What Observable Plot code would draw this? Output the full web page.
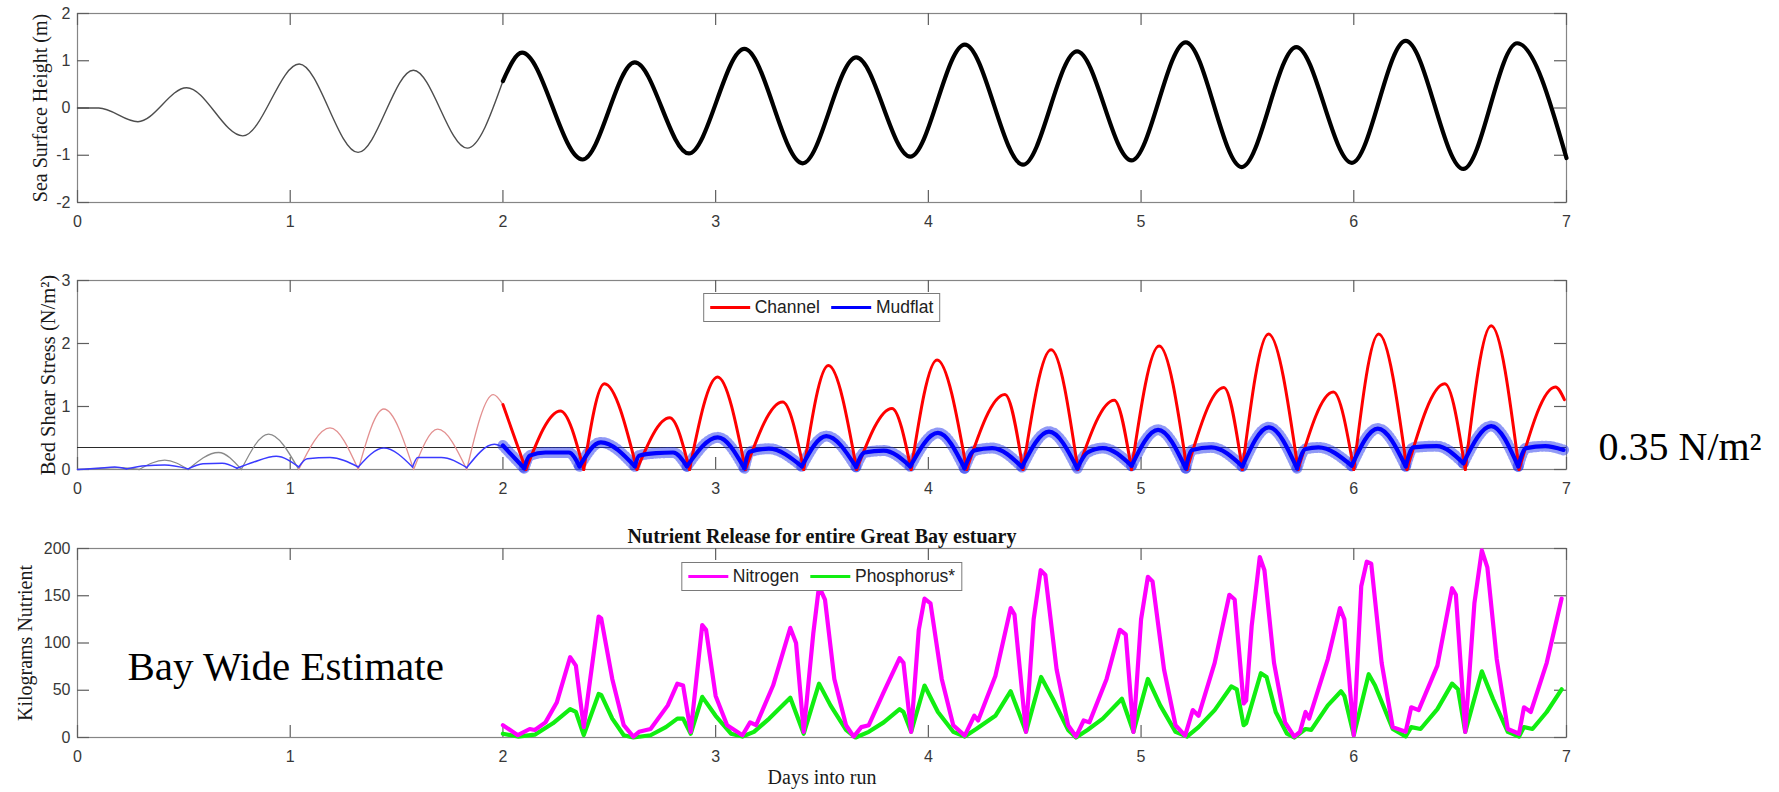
<!DOCTYPE html>
<html>
<head>
<meta charset="utf-8">
<script src="https://cdn.jsdelivr.net/npm/d3@7"></script>
<script src="https://cdn.jsdelivr.net/npm/@observablehq/plot@0.6"></script>
<style>
  html, body { margin: 0; padding: 0; background: #fff; overflow: hidden; }
  #wrap { position: relative; width: 1779px; height: 792px; overflow: hidden; background: #fff; }
  .panel { position: absolute; left: 0; }
  .legend { position: absolute; background: #fff; border: 1px solid #7a7a7a; display: flex; align-items: center;
            box-sizing: border-box; padding: 0 6px; font-family: "Liberation Sans", Arial, sans-serif;
            font-size: 17.5px; color: #222; white-space: nowrap; transform: translateX(-50%); }
  .legend .sw { display: inline-block; width: 40px; height: 3px; margin-right: 5px; }
  .legend .gap { display: inline-block; width: 11px; }
</style>
</head>
<body>
<div id="wrap"></div>
<script>
// ---------------- data ----------------
const dayTicks = [0, 1, 2, 3, 4, 5, 6, 7];
const sshTicks = [-2, -1, 0, 1, 2];
const stressTicks = [0, 1, 2, 3];
const nutrientTicks = [0, 50, 100, 150, 200];

// Sea surface height (m): spin-up (days 0-2) and analysis period (days 2-7)
const sshSpinupDay = [0, 0.1, 0.284, 0.513, 0.777, 1.042, 1.319, 1.579, 1.832, 2.0];
const sshSpinupVal = [0, 0, -0.29, 0.43, -0.59, 0.93, -0.94, 0.80, -0.85, 0.57];
const sshDay = [2.0, 2.09, 2.374, 2.62, 2.874, 3.135, 3.409, 3.661, 3.915, 4.171, 4.445, 4.699, 4.955, 5.21, 5.473, 5.73, 5.991, 6.244, 6.515, 6.768, 7.0];
const sshVal = [0.57, 1.17, -1.09, 0.965, -0.96, 1.25, -1.17, 1.07, -1.03, 1.34, -1.2, 1.2, -1.11, 1.39, -1.25, 1.29, -1.16, 1.42, -1.29, 1.37, -1.06];

// Bed shear stress (N/m^2)
const channelSpinupDay = [0, 0.2, 0.29, 0.41, 0.52, 0.663, 0.77, 0.898, 1.04, 1.187, 1.32, 1.44, 1.58, 1.693, 1.83, 1.955, 2.0];
const channelSpinupVal = [0, 0.03, 0, 0.15, 0, 0.27, 0, 0.56, 0, 0.66, 0, 0.96, 0, 0.64, 0, 1.19, 1.03];
const channelDay = [2.0, 2.108, 2.27, 2.38, 2.477, 2.63, 2.784, 2.877, 3.009, 3.14, 3.315, 3.414, 3.53, 3.663, 3.829, 3.919, 4.041, 4.18, 4.36, 4.445, 4.577, 4.703, 4.874, 4.955, 5.085, 5.216, 5.389, 5.476, 5.599, 5.738, 5.904, 6.0, 6.117, 6.25, 6.428, 6.524, 6.646, 6.777, 6.948, 6.99];
const channelVal = [1.03, 0, 0.93, 0, 1.36, 0, 0.82, 0, 1.47, 0, 1.07, 0, 1.65, 0, 0.97, 0, 1.74, 0, 1.19, 0, 1.9, 0, 1.10, 0, 1.96, 0, 1.30, 0, 2.15, 0, 1.23, 0, 2.15, 0, 1.36, 0, 2.28, 0, 1.31, 1.11];
const mudflatSpinupDay = [0, 0.1, 0.175, 0.23, 0.32, 0.41, 0.52, 0.59, 0.68, 0.75, 0.826, 0.934, 1.04, 1.08, 1.187, 1.32, 1.44, 1.575, 1.6, 1.71, 1.83, 1.96, 2.0];
const mudflatSpinupVal = [0, 0.02, 0.04, 0.01, 0.06, 0.07, 0.01, 0.09, 0.10, 0.02, 0.115, 0.21, 0.04, 0.17, 0.19, 0.04, 0.34, 0.04, 0.19, 0.19, 0.03, 0.40, 0.35];
const mudflatDay = [2.0, 2.1, 2.126, 2.2, 2.31, 2.36, 2.46, 2.62, 2.64, 2.72, 2.80, 2.865, 3.01, 3.135, 3.16, 3.25, 3.405, 3.52, 3.66, 3.70, 3.79, 3.915, 4.045, 4.17, 4.216, 4.30, 4.44, 4.567, 4.70, 4.748, 4.82, 4.955, 5.08, 5.21, 5.24, 5.33, 5.476, 5.60, 5.733, 5.773, 5.834, 5.99, 6.113, 6.244, 6.28, 6.39, 6.515, 6.646, 6.773, 6.81, 6.90, 6.986];
const mudflatVal = [0.38, 0.02, 0.22, 0.27, 0.27, 0.05, 0.43, 0.05, 0.22, 0.26, 0.27, 0.05, 0.51, 0.02, 0.28, 0.33, 0.05, 0.53, 0.04, 0.27, 0.30, 0.05, 0.58, 0.02, 0.30, 0.34, 0.04, 0.60, 0.02, 0.27, 0.34, 0.06, 0.63, 0.02, 0.31, 0.35, 0.05, 0.67, 0.02, 0.325, 0.35, 0.06, 0.65, 0.05, 0.35, 0.37, 0.10, 0.69, 0.05, 0.34, 0.37, 0.31];
const erosionThreshold = 0.35;

// Nutrient release (kg)
const nitrogenDay = [2.0,2.07,2.126,2.15,2.2,2.253,2.316,2.343,2.38,2.45,2.462,2.514,2.568,2.613,2.64,2.694,2.775,2.82,2.847,2.883,2.937,2.955,3.0,3.054,3.126,3.162,3.19,3.27,3.351,3.378,3.414,3.459,3.486,3.514,3.558,3.613,3.649,3.685,3.72,3.79,3.865,3.883,3.919,3.955,3.982,4.01,4.063,4.117,4.171,4.216,4.234,4.315,4.387,4.405,4.459,4.495,4.528,4.55,4.603,4.657,4.694,4.73,4.757,4.838,4.9,4.928,4.964,5.0,5.032,5.054,5.108,5.162,5.207,5.243,5.27,5.346,5.415,5.44,5.482,5.494,5.52,5.558,5.58,5.625,5.677,5.72,5.747,5.773,5.79,5.878,5.935,5.956,6.0,6.035,6.061,6.082,6.131,6.183,6.244,6.27,6.305,6.393,6.462,6.48,6.524,6.567,6.602,6.628,6.672,6.724,6.777,6.8,6.832,6.907,6.977];
const nitrogenVal = [13,2.5,9,8,16,37,85,76,11,128,126,62,13,1,6,9,34,57,55,6,119,114,44,13,2.4,16,13,55,116,100,6,110,160,146,62,13,1,11,13,48,84,79,6,114,147,142,62,13,2,23,18,65,137,130,6,125,177,172,72,13,1,18,16,62,114,109,6,125,170,165,72,13,2,29,23,79,151,146,36,39,118,191,177,79,16,1,6,27,20,83,137,125,2.4,160,186,184,79,11,6,32,29,76,158,151,6,142,198,180,83,9,4,32,27,79,147];
const phosphorusDay = [2.0,2.07,2.15,2.235,2.316,2.343,2.38,2.45,2.462,2.514,2.568,2.613,2.694,2.766,2.82,2.847,2.883,2.937,3.0,3.072,3.126,3.18,3.252,3.351,3.414,3.486,3.54,3.613,3.658,3.72,3.79,3.865,3.883,3.919,3.982,4.045,4.117,4.171,4.225,4.315,4.387,4.459,4.53,4.585,4.657,4.694,4.748,4.82,4.91,4.964,5.032,5.09,5.162,5.216,5.27,5.346,5.424,5.45,5.482,5.494,5.563,5.59,5.633,5.686,5.72,5.773,5.8,5.878,5.94,5.956,6.0,6.07,6.1,6.183,6.244,6.27,6.314,6.393,6.462,6.49,6.524,6.602,6.654,6.724,6.777,6.8,6.84,6.907,6.977];
const phosphorusVal = [4,1,3,15,30,27,2.5,46,45,20,2.4,0,2.4,11,20,20,4,43,23,4,1,6,20,42,4,57,34,8,0,6,16,30,27,6,55,27,6,1,9,23,49,6,64,41,8,0,8,20,41,6,62,34,6,1,11,29,54,51,13,15,68,64,27,4,0,9,8,34,49,44,2.4,67,55,9,1,11,9,30,57,51,6,70,41,6,1,11,9,27,51];

// texts
const yLabels = ["Sea Surface Height (m)", "Bed Shear Stress (N/m\u00B2)", "Kilograms Nutrient"];
const xLabel = "Days into run";
const nutrientTitle = "Nutrient Release for entire Great Bay estuary";
const stressSeries = ["Channel", "Mudflat"];
const nutrientSeries = ["Nitrogen", "Phosphorus*"];
const thresholdLabel = "0.35 N/m\u00B2";
const annotationText = "Bay Wide Estimate";

// ---------------- helpers ----------------
const SANS = "'Liberation Sans', Arial, Helvetica, sans-serif";
const SERIF = "'Liberation Serif', 'Times New Roman', serif";
const FRAME = "#858585", TICKC = "#5e5e5e", INK = "#383838";
const W = 1779, ML = 77, MR = 1779 - 1566, PLOT_W = 1566 - 77, PLOT_H = 189, TICK = 12;

const rows = (ts, vs) => ts.map((t, i) => ({t, v: vs[i]})).filter(d => d.v != null);
function segmentAtMinima(ts, vs) {
  const out = []; let seg = 0, start = ts[0];
  ts.forEach((t, i) => {
    out.push({t, v: vs[i], seg, start});
    if (i > 0 && i < ts.length - 1 && vs[i] < vs[i - 1] && vs[i] <= vs[i + 1]) {
      seg += 1; start = t;
      out.push({t, v: vs[i], seg, start});
    }
  });
  return out;
}

// MATLAB-style inward ticks on all four sides (tick length converted to data units)
function axisMarks(yTicks, yDomain) {
  const [y0, y1] = yDomain;
  const dy = (y1 - y0) * TICK / PLOT_H, dx = 7 * TICK / PLOT_W;
  const st = {stroke: TICKC, strokeWidth: 1.2};
  return [
    Plot.frame({stroke: FRAME, strokeWidth: 1.2}),
    Plot.ruleX(dayTicks, {x: d => d, y1: y0, y2: y0 + dy, ...st}),
    Plot.ruleX(dayTicks, {x: d => d, y1: y1 - dy, y2: y1, ...st}),
    Plot.ruleY(yTicks, {y: d => d, x1: 0, x2: dx, ...st}),
    Plot.ruleY(yTicks, {y: d => d, x1: 7 - dx, x2: 7, ...st}),
    Plot.axisX(dayTicks, {tickSize: 0, tickPadding: 13, tickFormat: d => String(d), label: null,
                          fontSize: 16, fontFamily: SANS, color: INK}),
    Plot.axisY(yTicks, {tickSize: 0, tickPadding: 7, tickFormat: d => String(d), label: null,
                        fontSize: 16, fontFamily: SANS, color: INK})
  ];
}
function yLabelMark(text, dx, size) {
  return Plot.text([text], {text: d => d, frameAnchor: "left", rotate: -90, dx,
    textAnchor: "middle", lineAnchor: "middle", fontFamily: SERIF, fontSize: size, fill: "#1a1a1a"});
}

const wrap = document.getElementById("wrap");
function place(svg, top) {
  const d = document.createElement("div");
  d.className = "panel"; d.style.top = top + "px";
  d.appendChild(svg); wrap.appendChild(d);
}

// ---------------- panel 1: sea surface height ----------------
const sshDomain = [-2, 2];
const p1 = Plot.plot({
  width: W, height: 255, marginTop: 13, marginBottom: 53, marginLeft: ML, marginRight: MR,
  x: {domain: [0, 7]}, y: {domain: sshDomain},
  style: {background: "transparent", overflow: "visible"},
  marks: [
    ...axisMarks(sshTicks, sshDomain),
    Plot.line(rows(sshSpinupDay, sshSpinupVal), {x: "t", y: "v", curve: "monotone-x", stroke: "#4d4d4d", strokeWidth: 1.4}),
    Plot.line(rows(sshDay, sshVal), {x: "t", y: "v", curve: "monotone-x", stroke: "#000", strokeWidth: 4.2}),
    yLabelMark(yLabels[0], -37, 20)
  ]
});
place(p1, 0);

// ---------------- panel 2: bed shear stress ----------------
const stressDomain = [0, 3];
const chSpin = segmentAtMinima(channelSpinupDay, channelSpinupVal);
const mfSpin = segmentAtMinima(mudflatSpinupDay, mudflatSpinupVal);
const chMain = segmentAtMinima(channelDay, channelVal);
const mfMain = segmentAtMinima(mudflatDay, mudflatVal);
const p2 = Plot.plot({
  width: W, height: 265, marginTop: 25, marginBottom: 51, marginLeft: ML, marginRight: MR,
  x: {domain: [0, 7]}, y: {domain: stressDomain},
  style: {background: "transparent", overflow: "visible"},
  marks: [
    ...axisMarks(stressTicks, stressDomain),
    Plot.ruleY([erosionThreshold], {stroke: "#2a2a2a", strokeWidth: 1.1}),
    Plot.line(chSpin.filter(d => d.start < 1), {x: "t", y: "v", z: "seg", curve: "monotone-x", stroke: "#8a8a8a", strokeWidth: 1.3}),
    Plot.line(chSpin.filter(d => d.start >= 1), {x: "t", y: "v", z: "seg", curve: "monotone-x", stroke: "#e39090", strokeWidth: 1.3}),
    Plot.line(mfSpin, {x: "t", y: "v", z: "seg", curve: "monotone-x", stroke: "#3a3aff", strokeWidth: 1.5}),
    Plot.line(mfMain, {x: "t", y: "v", z: "seg", curve: "monotone-x", stroke: "#2233ee", strokeWidth: 11, strokeOpacity: 0.5, strokeDasharray: "1,2.6"}),
    Plot.line(chMain, {x: "t", y: "v", z: "seg", curve: "monotone-x", stroke: "#ff0000", strokeWidth: 3}),
    Plot.line(mfMain, {x: "t", y: "v", z: "seg", curve: "monotone-x", stroke: "#0000ff", strokeWidth: 4.2}),
    Plot.text([thresholdLabel], {text: d => d, x: 7, y: erosionThreshold, dx: 32, textAnchor: "start", lineAnchor: "middle",
      fontFamily: SERIF, fontSize: 40, fill: "#000"}),
    yLabelMark(yLabels[1], -29, 20.5)
  ]
});
place(p2, 255);

// ---------------- panel 3: nutrients ----------------
const nutrientDomain = [0, 200];
const p3 = Plot.plot({
  width: W, height: 272, marginTop: 28, marginBottom: 55, marginLeft: ML, marginRight: MR,
  x: {domain: [0, 7]}, y: {domain: nutrientDomain},
  style: {background: "transparent", overflow: "visible"},
  marks: [
    ...axisMarks(nutrientTicks, nutrientDomain),
    Plot.line(rows(phosphorusDay, phosphorusVal), {x: "t", y: "v", stroke: "#11ee11", strokeWidth: 4.2, strokeLinejoin: "round"}),
    Plot.line(rows(nitrogenDay, nitrogenVal), {x: "t", y: "v", stroke: "#ff00ff", strokeWidth: 4.2, strokeLinejoin: "round"}),
    Plot.text([nutrientTitle], {text: d => d, frameAnchor: "top", dy: -6, lineAnchor: "bottom",
      fontFamily: SERIF, fontWeight: "bold", fontSize: 20, fill: "#111"}),
    Plot.text([xLabel], {text: d => d, frameAnchor: "bottom", dy: 46, lineAnchor: "bottom",
      fontFamily: SERIF, fontSize: 20, fill: "#1a1a1a"}),
    Plot.text([annotationText], {text: d => d, x: 0.235, y: 61, textAnchor: "start", lineAnchor: "bottom",
      fontFamily: SERIF, fontSize: 41, fill: "#000"}),
    yLabelMark(yLabels[2], -52, 20)
  ]
});
place(p3, 520);

// ---------------- legends ----------------
function legend(names, colors, centerX, top, height) {
  const d = document.createElement("div");
  d.className = "legend";
  d.style.left = centerX + "px"; d.style.top = top + "px"; d.style.height = height + "px";
  names.forEach((n, i) => {
    if (i > 0) { const g = document.createElement("span"); g.className = "gap"; d.appendChild(g); }
    const s = document.createElement("span"); s.className = "sw"; s.style.background = colors[i]; d.appendChild(s);
    const t = document.createElement("span"); t.textContent = n; d.appendChild(t);
  });
  wrap.appendChild(d);
}
legend(stressSeries, ["#ff0000", "#0000ff"], 821.5, 293, 29);
legend(nutrientSeries, ["#ff00ff", "#11ee11"], 821.5, 562, 29);
</script>
</body>
</html>
